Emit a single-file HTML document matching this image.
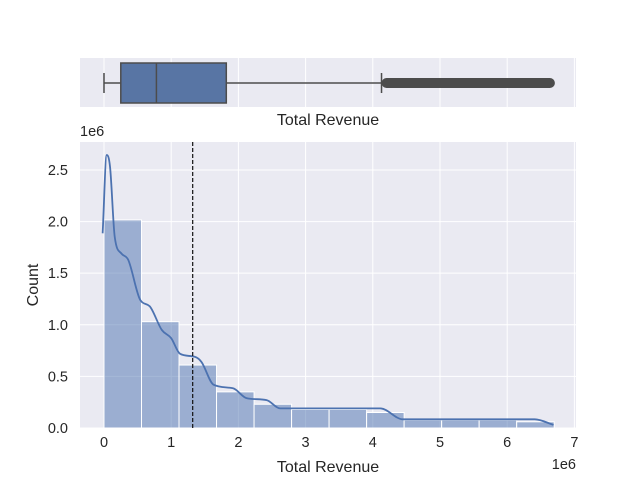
<!DOCTYPE html>
<html><head><meta charset="utf-8"><style>
body{margin:0;background:#fff}
svg text{font-family:"Liberation Sans","DejaVu Sans",sans-serif;fill:#262626}
</style></head><body>
<svg id="c" width="640" height="480"></svg>
<script>
const binEdgesStart = 0, binWidth = 0.5583;
const binCounts = [2.016,1.03,0.61,0.35,0.23,0.18,0.18,0.15,0.077,0.077,0.077,0.06];
const kdeX = [-0.02,0.04,0.09,0.16,0.26,0.36,0.54,0.68,0.86,1.0,1.13,1.35,1.45,1.63,1.92,2.12,2.42,2.62,3.3,4.11,4.45,5.4,6.41,6.69];
const kdeY = [1.886,2.645,2.53,1.85,1.69,1.63,1.24,1.18,0.95,0.87,0.72,0.69,0.64,0.42,0.385,0.29,0.27,0.19,0.19,0.19,0.084,0.084,0.084,0.03];
const meanValue = 1.32;
const boxStats = [0, 0.25, 0.78, 1.82, 4.13, 6.71];
const xTicks = [0,1,2,3,4,5,6,7];
const yTicks = [0,0.5,1.0,1.5,2.0,2.5];
const yTickLabels = ["0.0","0.5","1.0","1.5","2.0","2.5"];

const NS="http://www.w3.org/2000/svg", svg=document.getElementById('c');
function el(t,a,txt){const e=document.createElementNS(NS,t);for(const k in a)e.setAttribute(k,a[k]);if(txt!=null)e.textContent=txt;svg.appendChild(e);return e;}
const L=80,R=576,x0=-0.357,x1=7.024;
const X=v=>L+(v-x0)/(x1-x0)*(R-L);
const HT=142,HB=428,ymax=2.771;
const Y=v=>HB-v/ymax*(HB-HT);

// box panel
let e=el('rect',{x:L,y:58,width:R-L,height:49,fill:'#eaeaf2'});

xTicks.forEach(t=>{if(X(t)<R) el('line',{x1:X(t),x2:X(t),y1:58,y2:107,stroke:'#fff','stroke-width':1});});
const by=83;
e=el('line',{x1:X(boxStats[0]),x2:X(boxStats[1]),y1:by,y2:by,stroke:'#4c4c4c','stroke-width':1.5});

e=el('line',{x1:X(boxStats[0]),x2:X(boxStats[0]),y1:73,y2:93,stroke:'#4c4c4c','stroke-width':1.5});

e=el('line',{x1:X(boxStats[3]),x2:X(boxStats[4]),y1:by,y2:by,stroke:'#4c4c4c','stroke-width':1.5});

e=el('line',{x1:X(boxStats[4]),x2:X(boxStats[4]),y1:73,y2:93,stroke:'#4c4c4c','stroke-width':1.5});

e=el('rect',{x:X(boxStats[1]),y:63,width:X(boxStats[3])-X(boxStats[1]),height:40,fill:'#5875a4',stroke:'#4c4c4c','stroke-width':1.5});

e=el('line',{x1:X(boxStats[2]),x2:X(boxStats[2]),y1:63,y2:103,stroke:'#4c4c4c','stroke-width':1.5});

e=el('rect',{x:X(boxStats[4]),y:78,width:X(boxStats[5])-X(boxStats[4]),height:10,rx:5,fill:'#4c4c4c'});

e=el('text',{x:328,y:125,'text-anchor':'middle','font-size':16},'Total Revenue');


// histogram panel
e=el('rect',{x:L,y:HT,width:R-L,height:HB-HT,fill:'#eaeaf2'});

xTicks.forEach(t=>{if(X(t)<R) el('line',{x1:X(t),x2:X(t),y1:HT,y2:HB,stroke:'#fff','stroke-width':1});
 e=el('text',{x:X(t),y:HB+19,'text-anchor':'middle','font-size':14.5},String(t));
 });
yTicks.forEach((t,i)=>{el('line',{x1:L,x2:R,y1:Y(t),y2:Y(t),stroke:'#fff','stroke-width':1});
 e=el('text',{x:L-12,y:Y(t)+5,'text-anchor':'end','font-size':14.5},yTickLabels[i]);
 });
binCounts.forEach((c,i)=>{const a=binEdgesStart+i*binWidth;
 e=el('rect',{x:X(a),y:Y(c),width:X(a+binWidth)-X(a),height:HB-Y(c),fill:'rgba(76,114,176,0.5)',stroke:'#fff','stroke-width':1});
 });
// monotone cubic interpolation
const pts=kdeX.map((v,i)=>[X(v),Y(kdeY[i])]);
const n=pts.length,dl=[],m=[];
for(let i=0;i<n-1;i++)dl.push((pts[i+1][1]-pts[i][1])/(pts[i+1][0]-pts[i][0]));
m[0]=dl[0];m[n-1]=dl[n-2];
for(let i=1;i<n-1;i++){m[i]=(dl[i-1]*dl[i]<=0)?0:(dl[i-1]+dl[i])/2;}
for(let i=0;i<n-1;i++){if(dl[i]===0){m[i]=0;m[i+1]=0;continue;}const a=m[i]/dl[i],b=m[i+1]/dl[i],s=a*a+b*b;if(s>9){const t=3/Math.sqrt(s);m[i]=t*a*dl[i];m[i+1]=t*b*dl[i];}}
let d='M'+pts[0].join(',');
for(let i=0;i<n-1;i++){const h=(pts[i+1][0]-pts[i][0])/3;
 d+=` C${pts[i][0]+h},${pts[i][1]+m[i]*h} ${pts[i+1][0]-h},${pts[i+1][1]-m[i+1]*h} ${pts[i+1][0]},${pts[i+1][1]}`;}
e=el('path',{d:d,fill:'none',stroke:'#4c72b0','stroke-width':1.8});

e=el('line',{x1:X(meanValue),x2:X(meanValue),y1:HT,y2:HB,stroke:'#111','stroke-width':1.2,'stroke-dasharray':'4,2'});

e=el('text',{x:80,y:136,'font-size':14.5},'1e6');

e=el('text',{x:576,y:469,'text-anchor':'end','font-size':14.5},'1e6');

e=el('text',{x:328,y:472,'text-anchor':'middle','font-size':16},'Total Revenue');

e=el('text',{x:38,y:285,'text-anchor':'middle','font-size':16,transform:'rotate(-90 38 285)'},'Count');

</script>
</body></html>
